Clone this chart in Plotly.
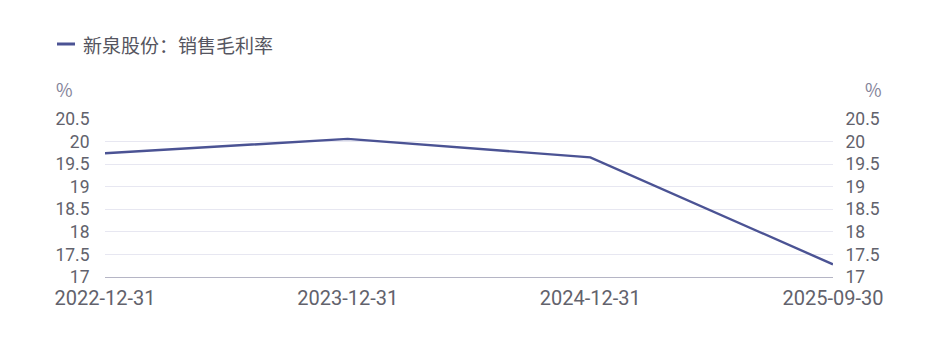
import plotly.graph_objects as go

categories = ["2022-12-31", "2023-12-31", "2024-12-31", "2025-09-30"]
gross_margin = [19.74, 20.06, 19.65, 17.28]
y_ticks = [17, 17.5, 18, 18.5, 19, 19.5, 20, 20.5]
y_tick_text = ["17", "17.5", "18", "18.5", "19", "19.5", "20", "20.5"]
series_name = "新泉股份：销售毛利率"
unit = "%"

LINE = "#4b5394"
TXT = "#62626c"
GRID = "#e7e7f1"
FONT = "Noto Sans CJK SC"

W, H = 937, 339
ml, mr, mt, mb = 105, 104, 119, 62

fig = go.Figure()
fig.add_trace(go.Scatter(x=categories, y=gross_margin, mode="lines", name=series_name,
                         line=dict(color=LINE, width=2.4), showlegend=False))
fig.add_trace(go.Scatter(x=categories, y=gross_margin, mode="lines", yaxis="y2",
                         line=dict(color="rgba(0,0,0,0)", width=0), showlegend=False,
                         hoverinfo="skip"))

yax = dict(range=[17, 20.5], tickvals=y_ticks, ticktext=y_tick_text,
           showgrid=True, gridcolor=GRID, gridwidth=1, zeroline=False,
           tickfont=dict(size=17.5, color=TXT, family="Roboto"),
           ticks="outside", ticklen=11, tickcolor="rgba(0,0,0,0)", fixedrange=True)

fig.update_layout(
    width=W, height=H,
    margin=dict(l=ml, r=mr, t=mt, b=mb),
    paper_bgcolor="white", plot_bgcolor="white",
    xaxis=dict(type="category", range=[0, len(categories) - 1], showgrid=False,
               showline=True, linecolor="#b5b5c5", linewidth=1, zeroline=False,
               tickfont=dict(size=20, color=TXT, family="Roboto"),
               ticks="outside", ticklen=3, tickcolor="rgba(0,0,0,0)"),
    yaxis=yax,
    yaxis2=dict(yax, overlaying="y", side="right", showgrid=False, ticklen=8),
    showlegend=False,
)

pw = W - ml - mr
ph = H - mt - mb
def px_x(x):
    return (x - ml) / pw
def px_y(y):
    return (H - mb - y) / ph

fig.add_shape(type="line", xref="paper", yref="paper",
              x0=px_x(57), x1=px_x(75), y0=px_y(44), y1=px_y(44),
              line=dict(color=LINE, width=3))
fig.add_annotation(xref="paper", yref="paper", x=px_x(81), y=px_y(45), text=series_name,
                   showarrow=False, xanchor="left", yanchor="middle",
                   font=dict(size=19, color="#555560", family=FONT))
fig.add_annotation(xref="paper", yref="paper", x=px_x(64), y=px_y(89), text=unit,
                   showarrow=False, xanchor="center", yanchor="middle",
                   font=dict(size=18, color="#85859a", family=FONT))
fig.add_annotation(xref="paper", yref="paper", x=px_x(873), y=px_y(89), text=unit,
                   showarrow=False, xanchor="center", yanchor="middle",
                   font=dict(size=18, color="#85859a", family=FONT))

fig.write_html("out.html")
